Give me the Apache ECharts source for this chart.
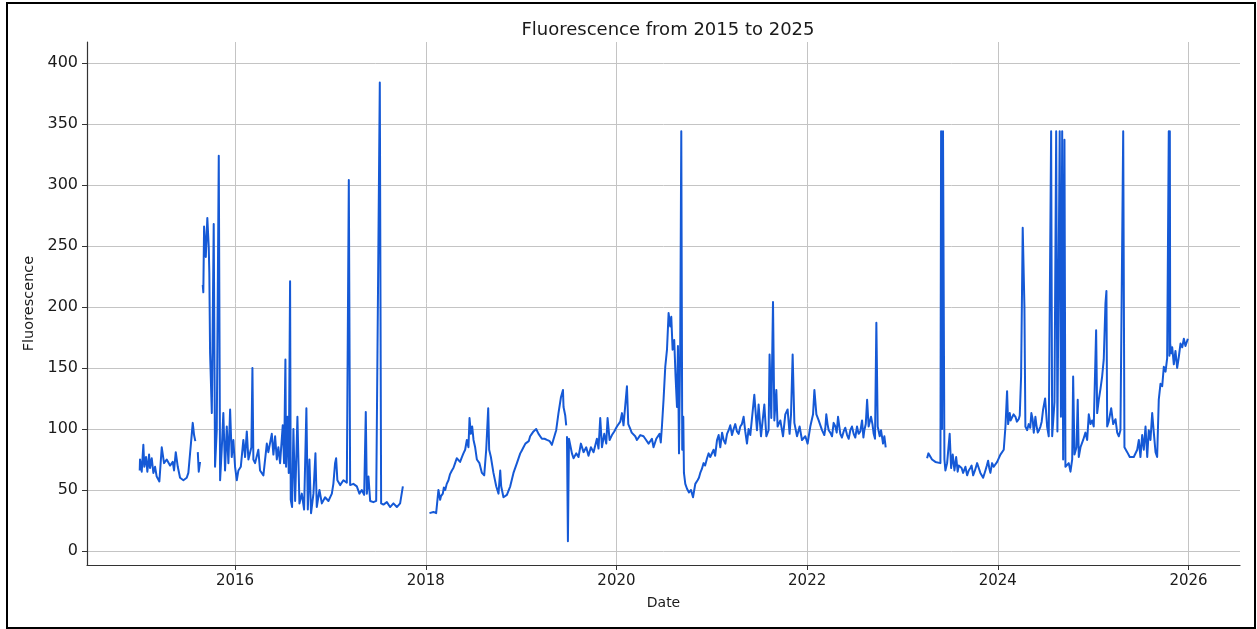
<!DOCTYPE html>
<html><head><meta charset="utf-8">
<script src="https://cdn.jsdelivr.net/npm/echarts@6/dist/echarts.min.js"></script>
<style>
html,body{margin:0;padding:0;background:#fff;}
#c{position:absolute;left:0;top:0;width:1257px;height:629px;}
#frame{position:absolute;left:6px;top:2px;width:1246px;height:623px;border:2px solid #000;pointer-events:none;}
</style>
</head><body>
<div id="c"></div><div id="frame"></div>
<script>
// Time as decimal years; null value = gap in the record
const years = [
2015.000,2015.003,2015.021,2015.038,2015.048,2015.066,2015.080,2015.098,2015.108,2015.126,2015.143,2015.161,2015.178,2015.206,2015.231,2015.255,2015.283,2015.318,2015.346,2015.360,2015.378,2015.399,2015.423,2015.458,2015.493,2015.510,2015.528,2015.546,2015.556,2015.570,2015.583,
2015.596,
2015.609,2015.619,2015.633,
2015.647,
2015.661,2015.667,2015.675,2015.693,2015.709,2015.724,2015.730,2015.738,2015.756,2015.776,2015.790,2015.808,2015.829,2015.843,2015.860,2015.877,2015.895,2015.913,2015.930,2015.948,2015.965,2015.982,
2016.000,2016.018,2016.035,2016.060,2016.087,2016.105,2016.123,2016.140,2016.171,2016.182,2016.192,2016.210,2016.244,2016.262,2016.297,2016.333,2016.349,2016.385,2016.402,2016.420,2016.438,2016.454,2016.472,2016.500,2016.514,2016.528,2016.535,2016.549,2016.563,2016.577,2016.584,2016.598,2016.612,2016.630,2016.654,2016.675,2016.700,2016.724,2016.748,2016.763,2016.780,2016.797,2016.822,2016.843,2016.857,2016.885,2016.910,2016.944,2016.979,
2017.015,2017.031,2017.049,2017.060,2017.073,2017.102,2017.136,2017.172,2017.193,2017.207,2017.241,2017.277,2017.304,2017.329,2017.354,2017.371,2017.382,2017.399,2017.417,2017.451,2017.480,2017.518,2017.532,2017.556,2017.592,2017.626,2017.661,2017.697,2017.731,2017.760,
2017.900,
2018.039,2018.081,2018.109,2018.133,2018.151,2018.179,2018.204,2018.238,2018.274,2018.308,2018.343,2018.379,2018.413,2018.431,2018.448,2018.459,2018.473,2018.487,2018.501,2018.518,2018.536,2018.563,2018.589,2018.613,2018.634,2018.655,2018.665,2018.683,2018.710,2018.739,2018.763,2018.781,2018.791,2018.815,2018.851,2018.886,2018.920,2018.956,2018.991,
2019.025,2019.061,2019.095,2019.130,2019.158,2019.183,2019.218,2019.271,2019.323,2019.340,2019.368,2019.392,2019.418,2019.439,2019.445,2019.463,2019.473,
2019.477,
2019.481,2019.491,2019.502,2019.515,2019.533,2019.550,2019.578,2019.602,2019.627,2019.655,2019.683,2019.707,2019.732,2019.760,2019.795,2019.812,2019.830,2019.848,2019.872,2019.893,2019.907,2019.928,2019.953,2019.977,
2020.005,2020.040,2020.058,2020.074,2020.092,2020.110,2020.124,2020.145,2020.179,2020.215,2020.250,2020.284,2020.320,2020.355,2020.389,2020.418,2020.452,2020.477,2020.494,2020.512,2020.530,2020.547,2020.564,2020.575,2020.589,2020.606,2020.620,2020.635,2020.645,2020.656,2020.669,2020.680,2020.690,2020.701,2020.708,2020.722,2020.740,2020.761,2020.782,2020.803,2020.827,2020.851,2020.879,2020.914,2020.950,2020.984,
2021.019,2021.055,2021.072,2021.089,2021.124,2021.160,2021.194,2021.229,2021.264,2021.299,2021.334,2021.351,2021.369,2021.404,2021.446,2021.474,2021.491,2021.516,2021.551,2021.572,2021.596,2021.606,2021.624,2021.642,2021.656,2021.677,2021.690,2021.719,2021.747,2021.771,2021.795,2021.816,2021.831,2021.848,2021.866,2021.894,2021.921,2021.946,2021.981,
2022.005,2022.033,2022.062,2022.076,2022.097,2022.121,2022.156,2022.180,2022.201,2022.226,2022.261,2022.296,2022.324,2022.348,2022.383,2022.419,2022.453,2022.488,2022.523,2022.540,2022.576,2022.600,2022.629,2022.645,2022.670,2022.698,2022.726,2022.740,2022.761,2022.775,2022.796,2022.810,2022.824,
2023.000,
2023.258,2023.272,2023.285,2023.310,2023.345,2023.398,2023.405,2023.415,2023.425,2023.440,2023.450,2023.468,2023.495,2023.510,2023.527,2023.545,2023.563,2023.579,2023.607,2023.636,2023.660,2023.678,2023.712,2023.741,2023.783,2023.817,2023.846,2023.870,2023.898,2023.922,2023.957,2023.993,
2024.027,2024.062,2024.080,2024.097,2024.108,2024.125,2024.150,2024.185,2024.219,2024.244,2024.261,2024.279,2024.289,2024.307,2024.324,2024.352,2024.377,2024.394,2024.419,2024.447,2024.475,2024.496,2024.517,2024.534,2024.559,2024.570,2024.594,2024.612,2024.625,2024.649,2024.662,2024.675,2024.685,2024.699,2024.709,2024.744,2024.762,2024.780,2024.790,2024.804,2024.825,2024.838,2024.849,2024.867,2024.895,2024.919,2024.937,2024.954,2024.972,2024.989,
2025.006,2025.031,2025.042,2025.059,2025.077,2025.094,2025.111,2025.129,2025.139,2025.147,2025.163,2025.189,2025.210,2025.234,2025.252,2025.269,2025.286,2025.315,2025.328,2025.357,2025.384,2025.426,2025.462,2025.479,2025.496,2025.514,2025.531,2025.549,2025.567,2025.583,2025.601,2025.619,2025.636,2025.654,2025.671,2025.688,2025.706,2025.724,2025.741,2025.759,2025.776,2025.793,2025.800,2025.804,2025.808,2025.818,2025.829,2025.846,2025.863,2025.881,2025.898,2025.916,2025.934,2025.951,2025.968,2025.993
];
const fluorescence = [
66,75,65,87,69,77,65,79,68,76,64,69,61,57,85,72,75,70,73,66,81,69,60,58,60,64,80,96,105,95,90,
null,
81,65,73,
null,
218,212,266,241,273,249,228,162,113,268,69,99,324,58,83,113,66,102,72,116,77,91,
69,58,66,69,91,77,98,75,85,150,75,72,83,66,62,88,81,96,79,94,75,85,72,103,72,157,69,110,64,221,42,36,100,41,110,39,47,34,117,34,75,31,47,80,36,50,39,44,41,
47,55,72,76,58,54,58,56,304,54,55,53,47,50,46,114,47,61,41,40,41,384,39,38,40,36,39,36,39,53,
null,
31,32,31,50,42,47,50,58,66,72,77,77,83,91,85,109,96,102,91,85,75,72,64,62,83,117,83,77,64,53,47,66,53,44,46,53,64,72,80,
85,88,94,98,100,96,92,91,87,88,99,113,126,132,118,111,103,
null,
94,8,92,91,80,76,80,77,88,81,85,78,85,81,92,84,109,85,96,88,109,91,95,98,
102,106,113,103,102,135,104,100,96,91,95,94,91,90,85,92,96,102,124,151,165,195,184,192,165,173,143,118,168,80,170,344,83,110,64,55,51,48,50,44,55,58,64,72,76,77,
83,91,95,85,91,96,103,100,98,102,110,98,88,95,128,99,120,94,120,94,99,161,109,204,107,132,102,107,94,112,116,96,112,161,105,94,102,91,94,
88,102,112,132,112,107,99,95,112,99,94,102,110,96,98,95,99,96,102,96,107,99,124,102,110,96,187,102,94,99,88,94,85,
null,
76,80,80,75,73,72,344,100,344,75,66,72,96,68,79,66,77,65,69,64,69,62,68,62,72,64,60,66,74,64,69,73,
79,83,102,131,104,113,108,110,108,143,265,200,102,99,104,113,97,110,97,102,116,125,102,94,344,94,122,344,98,344,110,344,75,337,69,72,65,75,143,79,85,124,77,85,91,97,91,112,104,107,
102,181,113,124,133,143,157,203,213,102,106,117,104,108,97,94,99,344,85,81,77,77,83,91,77,95,83,102,77,99,91,113,97,81,77,124,137,135,151,147,158,344,160,344,170,162,167,153,164,150,159,170,167,174,168,174
];
// Additional readings in the noisier stretches
const detailYears = [
2018.160,2018.190,2018.220,2018.255,2018.290,2018.325,2018.360,2018.395,
2019.005,2019.045,2019.080,2019.112,2019.200,2019.245,2019.300,
2020.160,2020.197,2020.232,2020.267,2020.302,2020.337,2020.372,2020.404,2020.435,2020.465,
2020.865,2020.895,2020.930,2020.967,2021.002,
2021.035,2021.108,2021.142,2021.177,2021.212,2021.246,2021.282,2021.316,2021.386,
2022.190,2022.214,2022.243,2022.278,2022.310,2022.336,2022.365,2022.400,2022.436,2022.470,2022.505,2022.558,2022.590,2022.615,2022.685,2022.712,
2023.590,2023.620,2023.695,2023.725,2023.760,2023.800,2023.832,2023.885,2023.910,2023.940,2023.975,
2024.135,2024.165,2024.200,2024.230,2024.340,2024.365,2024.405,2024.432,2024.460
];
const detailFluorescence = [
45,52,55,63,68,76,73,80,
82,88,90,96,95,92,90,
97,94,90,96,92,88,92,84,93,89,
60,67,70,80,76,
78,97,88,99,95,104,96,104,100,
100,104,97,105,97,103,93,101,92,102,93,98,93,104,104,92,
70,68,66,70,66,68,63,70,68,72,70,
107,112,106,111,101,108,103,99,106
];
const xTickYears = [2016, 2018, 2020, 2022, 2024, 2026];
const yTicks = [0, 50, 100, 150, 200, 250, 300, 350, 400];

const rows = years.map((t, i) => [t, fluorescence[i]])
  .concat(detailYears.map((t, i) => [t, detailFluorescence[i]]))
  .sort((a, b) => a[0] - b[0]);
const data = rows.map(r => [r[0], r[1] === null ? '-' : r[1]]);

const FONT = 'DejaVu Sans';
const chart = echarts.init(document.getElementById('c'), null, {renderer: 'canvas'});
chart.setOption({
  animation: false,
  backgroundColor: '#ffffff',
  title: {
    text: 'Fluorescence from 2015 to 2025',
    left: 663, top: 16, textAlign: 'center',
    textStyle: {fontFamily: FONT, fontSize: 18, fontWeight: 'normal', color: '#1a1a1a'}
  },
  grid: {left: 87, top: 42, width: 1153, height: 523, containLabel: false},
  xAxis: {
    type: 'value', min: 2014.447, max: 2026.54,
    name: 'Date', nameLocation: 'middle', nameGap: 31,
    nameTextStyle: {fontFamily: FONT, fontSize: 14, color: '#1a1a1a'},
    axisLine: {show: true, onZero: false, lineStyle: {color: '#333', width: 1.2}},
    axisTick: {show: true, length: 5, inside: false, customValues: xTickYears, lineStyle: {color: '#333'}},
    axisLabel: {customValues: xTickYears, margin: 9, fontFamily: FONT, fontSize: 15, color: '#1a1a1a',
      formatter: v => String(Math.round(v))},
    splitLine: {show: true, lineStyle: {color: '#c4c4c4', width: 1}}
  },
  yAxis: {
    type: 'value', min: -11.5, max: 417.2,
    name: 'Fluorescence', nameLocation: 'middle', nameGap: 49, nameRotate: 90,
    nameTextStyle: {fontFamily: FONT, fontSize: 14.5, color: '#1a1a1a'},
    axisLine: {show: true, onZero: false, lineStyle: {color: '#333', width: 1.2}},
    axisTick: {show: true, length: 5, inside: false, customValues: yTicks, lineStyle: {color: '#333'}},
    axisLabel: {customValues: yTicks, margin: 9, fontFamily: FONT, fontSize: 16, color: '#1a1a1a'},
    splitLine: {show: true, lineStyle: {color: '#c4c4c4', width: 1}}
  },
  series: [{
    type: 'line', data: data, showSymbol: false, symbol: 'none',
    connectNulls: false, sampling: null, clip: true,
    lineStyle: {color: '#1559d6', width: 2, join: 'round'}
  }]
});
</script>
</body></html>
